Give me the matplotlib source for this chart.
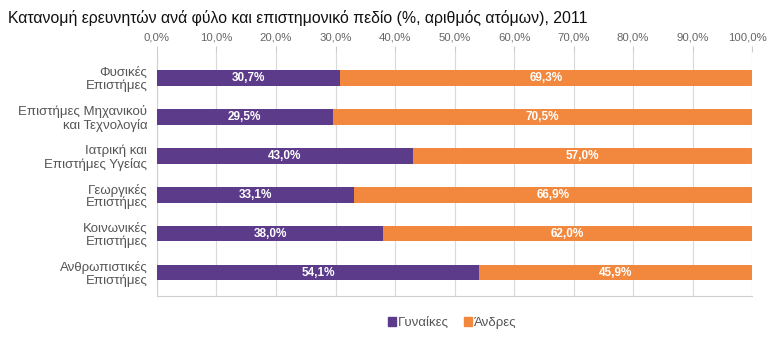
import matplotlib
matplotlib.use("Agg")
import matplotlib.pyplot as plt
import matplotlib.transforms as mtransforms
from matplotlib.patches import Patch

categories = ["Φυσικές\nΕπιστήμες", "Επιστήμες Μηχανικού\nκαι Τεχνολογία", "Ιατρική και\nΕπιστήμες Υγείας",
              "Γεωργικές\nΕπιστήμες", "Κοινωνικές\nΕπιστήμες", "Ανθρωπιστικές\nΕπιστήμες"]
women = [30.7, 29.5, 43.0, 33.1, 38.0, 54.1]
men = [69.3, 70.5, 57.0, 66.9, 62.0, 45.9]
ticks = [0, 10, 20, 30, 40, 50, 60, 70, 80, 90, 100]
tick_labels = [f"{t},0%" for t in ticks]

purple = "#5C3B8A"
orange = "#F2883D"

plt.rcParams['font.family'] = ['Liberation Sans', 'DejaVu Sans']
fig = plt.figure(figsize=(7.68, 3.59), dpi=100)
ax = fig.add_axes([0.2044, 0.1755, 0.775, 0.68])

y = list(range(len(categories)))
h = 0.4
ax.barh(y, women, height=h, color=purple, zorder=3)
ax.barh(y, men, left=women, height=h, color=orange, zorder=3)
for i in y:
    ax.text(women[i] / 2, i, f"{women[i]:.1f}%".replace(".", ","), ha="center", va="center",
            color="white", fontsize=8.5, fontweight="bold", zorder=4)
    ax.text(women[i] + men[i] / 2, i, f"{men[i]:.1f}%".replace(".", ","), ha="center", va="center",
            color="white", fontsize=8.5, fontweight="bold", zorder=4)

ax.set_xlim(0, 100)
ax.set_ylim(5.6, -0.67)
ax.set_yticks(y)
ax.set_yticklabels(categories, fontsize=9.5, color="#555555", linespacing=1.05)
ax.tick_params(axis="y", length=0, pad=7)
ax.xaxis.tick_top()
ax.set_xticks(ticks)
ax.set_xticklabels(tick_labels, fontsize=8.2, color="#666666")
ax.tick_params(axis="x", length=4, color="#cccccc", pad=3)
lbls = ax.get_xticklabels()
lbls[-1].set_transform(lbls[-1].get_transform() + mtransforms.ScaledTranslation(-5 / 100, 0, fig.dpi_scale_trans))
ax.grid(axis="x", color="#d9d9d9", linewidth=0.8, zorder=0)
for s in ["top", "right"]:
    ax.spines[s].set_visible(False)
ax.spines["left"].set_color("#d0d0d0")
ax.spines["bottom"].set_color("#d0d0d0")

fig.text(0.01, 0.95, "Κατανομή ερευνητών ανά φύλο και επιστημονικό πεδίο (%, αριθμός ατόμων), 2011",
         fontsize=11.4, color="#111111", ha="left", va="center")

handles = [Patch(color=purple, label="Γυναίκες"), Patch(color=orange, label="Άνδρες")]
fig.legend(handles=handles, loc="center", bbox_to_anchor=(0.589, 0.1), ncol=2, frameon=False,
           fontsize=9.5, handlelength=0.6, handleheight=0.6, handletextpad=0.15, columnspacing=1.1,
           labelcolor="#555555")

fig.savefig("out.png", dpi=100, facecolor="white")
